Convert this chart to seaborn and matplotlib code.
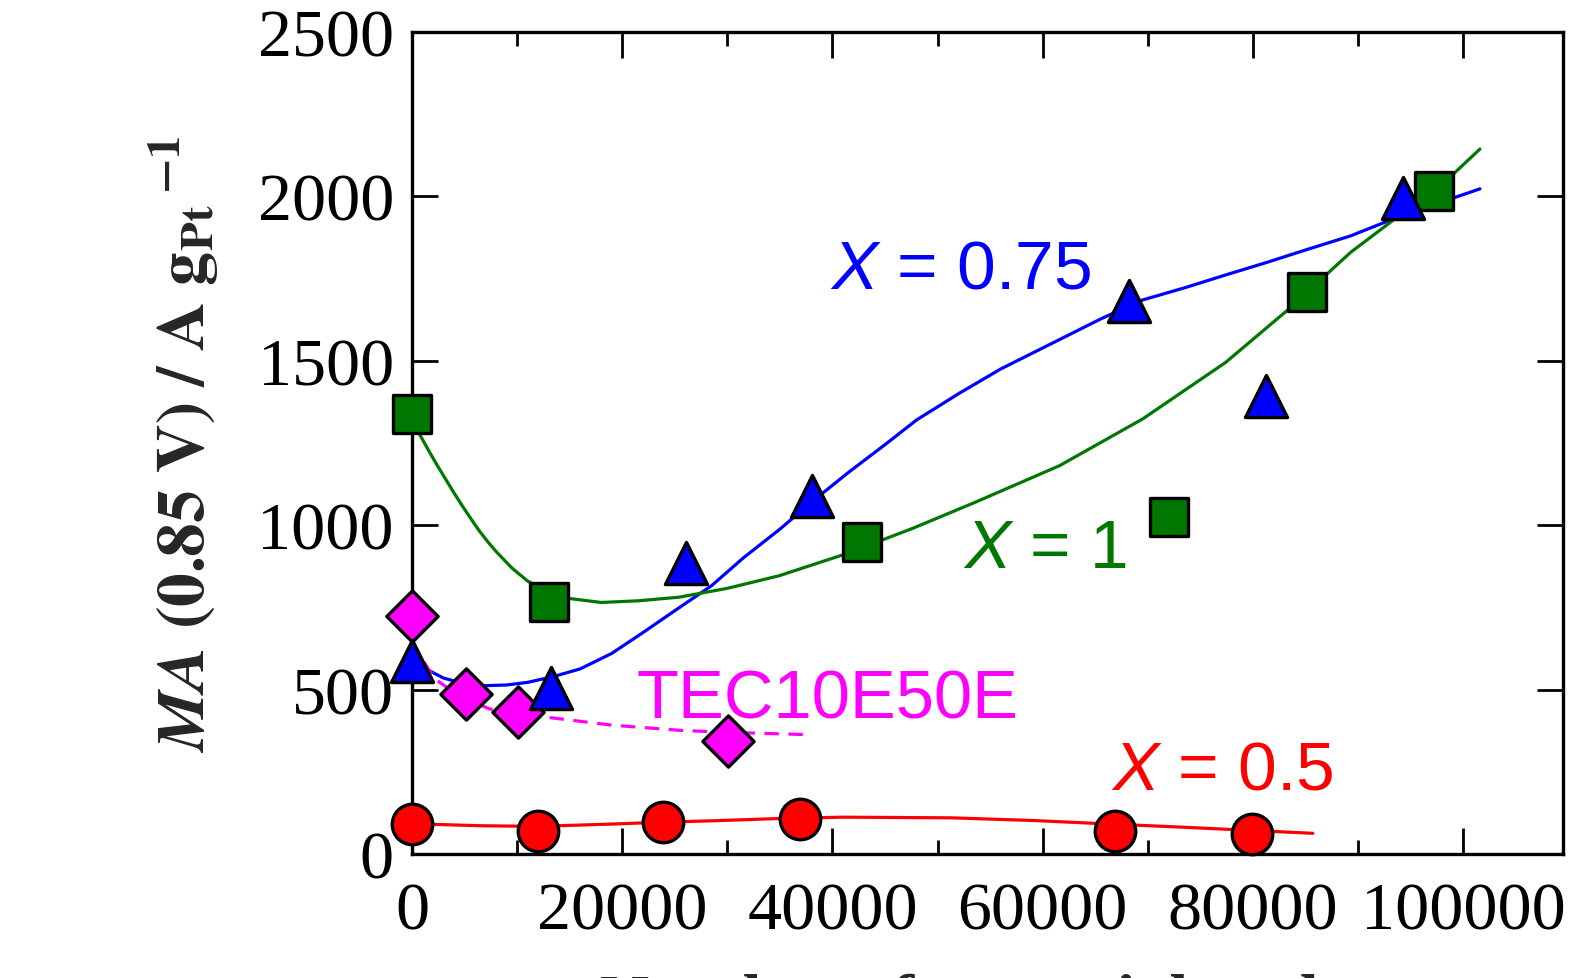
import numpy as np
import pandas as pd
import matplotlib
matplotlib.use("Agg")
import matplotlib.pyplot as plt
import seaborn as sns
from matplotlib.ticker import MultipleLocator

# ---------------- data ----------------
# X = 0.5 (red circles)
x05_x = [0, 12000, 23900, 36900, 66900, 79900]
x05_y = [91, 70, 98, 105, 70, 60]
x05_fit_x = [0, 6500, 12000, 19000, 24000, 28600, 35000, 41000, 51300, 59000, 66500, 73000, 80300, 85700]
x05_fit_y = [92, 86, 84, 91, 97, 101, 108, 112, 110, 102, 91, 82, 71, 63]

# X = 0.75 (blue triangles)
x075_x = [0, 13200, 26100, 38100, 68200, 81200, 94300]
x075_y = [587, 505, 886, 1089, 1683, 1393, 1995]
x075_fit_x = [0, 1500, 3000, 5000, 7000, 9000, 11000, 13500, 16000, 19000, 22000, 25000,
              28500, 31500, 35000, 38000, 41500, 45000, 48000, 52000, 56000, 61000,
              65500, 69500, 73500, 77500, 81400, 85300, 89300, 93300, 97500, 101600]
x075_fit_y = [590, 560, 535, 518, 512, 514, 522, 540, 563, 610, 674, 740,
              816, 900, 988, 1070, 1160, 1245, 1320, 1400, 1475, 1555,
              1627, 1685, 1722, 1762, 1800, 1840, 1880, 1931, 1978, 2023]

# X = 1 (green squares)
x1_x = [0, 13000, 42800, 72000, 85100, 97200]
x1_y = [1338, 765, 949, 1026, 1708, 2017]
x1_fit_x = [0, 800, 1600, 2400, 3200, 4000, 4800, 5600, 6350, 7200, 8000, 9500, 11000,
            12800, 15000, 18000, 21500, 25400, 30000, 34900, 41200, 47600, 53600,
            61600, 69500, 77400, 83400, 89300, 94100, 98900, 101600]
x1_fit_y = [1320, 1272, 1226, 1182, 1140, 1098, 1058, 1020, 985, 950, 920, 870, 830,
            800, 777, 765, 770, 781, 808, 846, 912, 990, 1070,
            1181, 1323, 1495, 1657, 1830, 1946, 2063, 2144]

# TEC10E50E (magenta diamonds)
tec_x = [0, 5140, 10100, 30100]
tec_y = [723, 487, 431, 343]
tec_fit_x = [0, 1000, 2200, 4500, 7400, 12800, 19000, 25500, 30000, 37700]
tec_fit_y = [648, 590, 532, 480, 441, 416, 392, 376, 370, 363]

x_ticks = [0, 20000, 40000, 60000, 80000, 100000]
y_ticks = [0, 500, 1000, 1500, 2000, 2500]

RED, BLUE, GREEN, MAG = "#ff0000", "#0000ff", "#007700", "#ff00ff"

# ---------------- style ----------------
sns.set_style("ticks")
plt.rcParams["font.family"] = ["Liberation Serif", "DejaVu Serif"]
plt.rcParams["mathtext.fontset"] = "custom"
plt.rcParams["mathtext.rm"] = "Liberation Sans"
plt.rcParams["mathtext.it"] = "Liberation Sans:italic"
plt.rcParams["mathtext.bf"] = "Liberation Sans:bold"

fig = plt.figure(figsize=(15.73, 9.79), dpi=100)
ax = fig.add_axes([412 / 1573, 1 - 855 / 979, (1563 - 412) / 1573, (855 - 33) / 979])

# fitted curves
lw = 2.3
for fx, fy, c, ls in [(x05_fit_x, x05_fit_y, RED, "-"),
                      (x075_fit_x, x075_fit_y, BLUE, "-"),
                      (x1_fit_x, x1_fit_y, GREEN, "-"),
                      (tec_fit_x, tec_fit_y, MAG, (0, (4.5, 3)))]:
    df = pd.DataFrame({"x": fx, "y": fy})
    sns.lineplot(data=df, x="x", y="y", color=c, lw=lw, sort=False, estimator=None,
                 ax=ax, zorder=2, linestyle=ls)

# markers
for px, py, c, m, s in [(tec_x, tec_y, MAG, "D", 680),
                        (x05_x, x05_y, RED, "o", 850),
                        (x1_x, x1_y, GREEN, "s", 720),
                        (x075_x, x075_y, BLUE, "^", 920)]:
    df = pd.DataFrame({"x": px, "y": py})
    sns.scatterplot(data=df, x="x", y="y", color=c, marker=m, s=s, edgecolor="black",
                    linewidth=2.4, ax=ax, zorder=4, clip_on=False)

# annotations
tkw = dict(fontsize=50, fontfamily="Liberation Sans", ha="left", va="baseline")
ax.text(39800, 1724, r"$X$ = 0.75", color=BLUE, **tkw)
ax.text(52400, 873, r"$X$ = 1", color=GREEN, **tkw)
ax.text(21400, 414, "TEC10E50E", color=MAG, fontsize=49.5,
        fontfamily="Liberation Sans", ha="left", va="baseline")
ax.text(66500, 198, r"$X$ = 0.5", color=RED, **tkw)

# axes
ax.set_xlim(0, 109500)
ax.set_ylim(0, 2500)
ax.set_xticks(x_ticks)
ax.set_yticks(y_ticks)
ax.xaxis.set_minor_locator(MultipleLocator(10000))
ax.tick_params(which="both", direction="in", top=True, right=True, width=2, colors="black")
ax.tick_params(which="major", length=19, labelsize=49)
ax.tick_params(axis="x", which="major", pad=20)
ax.tick_params(axis="y", which="major", pad=13)
ax.tick_params(which="minor", length=10)
for sp in ax.spines.values():
    sp.set_linewidth(2.4)
    sp.set_color("black")
ax.set_xlabel("")
ax.set_ylabel(r"$\mathbfit{MA}\ \mathbf{(0.85\ V)\ /\ A\ g}_{\mathbf{Pt}}\,{}^{\mathbf{-1}}$",
              fontsize=48.5, math_fontfamily="stix", labelpad=26)

# x label, cut off by the bottom of the figure as in the reference
fig.text(0.628, 1 - 974 / 979, "Number of potential cycles", fontsize=49,
         fontweight="bold", ha="center", va="top")

fig.savefig("out.png", dpi=100)
